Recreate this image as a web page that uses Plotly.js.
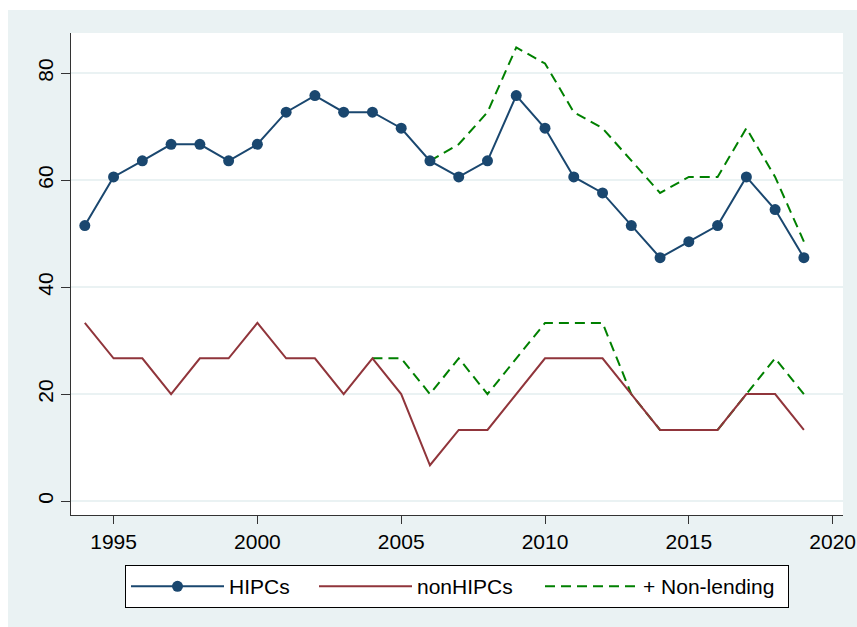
<!DOCTYPE html>
<html>
<head>
<meta charset="utf-8">
<script src="https://cdn.plot.ly/plotly-3.0.1.min.js"></script>
<style>
  html, body { margin: 0; padding: 0; background: #ffffff; }
  #chart { position: absolute; left: 8px; top: 10px; width: 849px; height: 617px; }
</style>
</head>
<body>
<div id="chart"></div>
<script>
// ---- data ----
const years = [1994, 1995, 1996, 1997, 1998, 1999, 2000, 2001, 2002, 2003, 2004, 2005, 2006,
               2007, 2008, 2009, 2010, 2011, 2012, 2013, 2014, 2015, 2016, 2017, 2018, 2019];

const hipcs = [51.5, 60.6, 63.6, 66.7, 66.7, 63.6, 66.7, 72.7, 75.8, 72.7, 72.7, 69.7, 63.6,
               60.6, 63.6, 75.8, 69.7, 60.6, 57.6, 51.5, 45.5, 48.5, 51.5, 60.6, 54.5, 45.5];

const hipcsNonLending = [null, null, null, null, null, null, null, null, null, null, null, null, 63.6,
               66.7, 72.7, 84.8, 81.8, 72.7, 69.7, 63.6, 57.6, 60.6, 60.6, 69.7, 60.6, 48.5];

const nonHipcs = [33.3, 26.7, 26.7, 20.0, 26.7, 26.7, 33.3, 26.7, 26.7, 20.0, 26.7, 20.0, 6.7,
               13.3, 13.3, 20.0, 26.7, 26.7, 26.7, 20.0, 13.3, 13.3, 13.3, 20.0, 20.0, 13.3];

const nonHipcsNonLending = [null, null, null, null, null, null, null, null, null, null, 26.7, 26.7, 20.0,
               26.7, 20.0, 26.7, 33.3, 33.3, 33.3, 20.0, 13.3, 13.3, 13.3, 20.0, 26.7, 20.0];

const seriesNames = ["HIPCs", "nonHIPCs", "+ Non-lending"];
const xTicks = [1995, 2000, 2005, 2010, 2015, 2020];
const yTicks = [0, 20, 40, 60, 80];

// ---- styles ----
const BLUE = "#1A476F", RED = "#90353B", GREEN = "#008000";
const FONT = "Liberation Sans, Arial, sans-serif";

const traces = [
  {
    x: years, y: hipcsNonLending, type: "scatter", mode: "lines",
    name: seriesNames[2], legendrank: 3, legendwidth: 140,
    line: { color: GREEN, width: 2, dash: "10px,6px" },
    connectgaps: false, hoverinfo: "skip"
  },
  {
    x: years, y: nonHipcsNonLending, type: "scatter", mode: "lines",
    name: seriesNames[2], showlegend: false,
    line: { color: GREEN, width: 2, dash: "10px,6px" },
    connectgaps: false, hoverinfo: "skip"
  },
  {
    x: years, y: hipcs, type: "scatter", mode: "lines+markers",
    name: seriesNames[0], legendrank: 1, legendwidth: 80,
    line: { color: BLUE, width: 2 },
    marker: { color: BLUE, size: 11, symbol: "circle" }
  },
  {
    x: years, y: nonHipcs, type: "scatter", mode: "lines",
    name: seriesNames[1], legendrank: 2, legendwidth: 118,
    line: { color: RED, width: 2 }
  }
];

const layout = {
  width: 849, height: 617,
  paper_bgcolor: "#EAF2F3",
  plot_bgcolor: "#ffffff",
  margin: { l: 63, r: 14, t: 23, b: 112, pad: 0 },
  font: { family: FONT, size: 21, color: "#000000" },
  showlegend: true,
  xaxis: {
    range: [1993.52, 2020.36],
    tickmode: "array", tickvals: xTicks, ticktext: xTicks.map(String),
    ticks: "outside", ticklen: 8, tickwidth: 1, tickcolor: "#333333",
    showline: true, linecolor: "#333333", linewidth: 1,
    showgrid: false, zeroline: false,
    tickfont: { family: FONT, size: 21, color: "#000000" }
  },
  yaxis: {
    range: [-2.6, 87.5],
    tickmode: "array", tickvals: yTicks, ticktext: yTicks.map(String),
    ticks: "outside", ticklen: 9, tickwidth: 1, tickcolor: "#333333",
    tickangle: -90,
    showline: true, linecolor: "#333333", linewidth: 1,
    showgrid: true, gridcolor: "#EAF2F3", gridwidth: 1.5,
    zeroline: false,
    tickfont: { family: FONT, size: 21, color: "#000000" }
  },
  legend: {
    orientation: "h",
    x: 0.5, xanchor: "center",
    y: -0.104, yanchor: "top",
    bgcolor: "#ffffff", bordercolor: "#000000", borderwidth: 1,
    itemwidth: 93,
    font: { family: FONT, size: 21, color: "#000000" },
    traceorder: "normal"
  }
};

Plotly.newPlot("chart", traces, layout, { displayModeBar: false, staticPlot: true });
</script>
</body>
</html>
